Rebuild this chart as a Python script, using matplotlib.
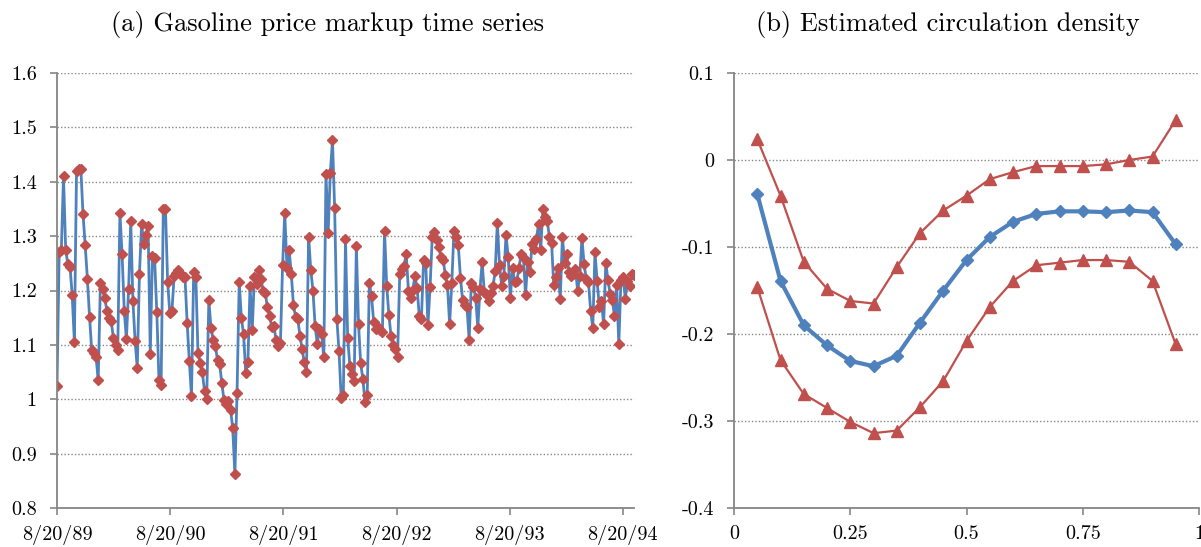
import matplotlib
matplotlib.use("Agg")
import matplotlib.pyplot as plt
import numpy as np

# ---- data -------------------------------------------------------------
# (a) weekly gasoline price markup, starting 8/20/89
markup = [
    1.025, 1.27, 1.275, 1.41, 1.275, 1.248, 1.243, 1.192, 1.106, 1.42,
    1.423, 1.423, 1.34, 1.283, 1.222, 1.152, 1.09, 1.085, 1.078, 1.035,
    1.213, 1.203, 1.186, 1.163, 1.15, 1.143, 1.113, 1.10, 1.09, 1.342,
    1.268, 1.163, 1.11, 1.202, 1.327, 1.18, 1.108, 1.057, 1.23, 1.322,
    1.286, 1.302, 1.318, 1.084, 1.263, 1.259, 1.161, 1.035, 1.027, 1.35,
    1.35, 1.216, 1.158, 1.163, 1.226, 1.232, 1.238, 1.23, 1.225, 1.225,
    1.14, 1.07, 1.006, 1.234, 1.225, 1.085, 1.067,
    1.050, 1.015, 1.0, 1.182, 1.131, 1.109, 1.098, 1.072, 1.064, 1.029,
    0.998, 0.992, 0.997, 0.981, 0.947, 0.862, 1.012, 1.215, 1.150, 1.120,
    1.049, 1.068, 1.209, 1.127, 1.225, 1.212, 1.238, 1.222, 1.200, 1.196,
    1.169, 1.153, 1.133, 1.134, 1.109, 1.098, 1.104, 1.246, 1.343, 1.242,
    1.275, 1.231, 1.173, 1.151, 1.147, 1.117, 1.093, 1.068, 1.051, 1.299,
    1.237, 1.200, 1.134, 1.102, 1.129, 1.120, 1.077, 1.414, 1.305, 1.417,
    1.476, 1.351, 1.148, 1.089, 1.003, 1.007, 1.294, 1.113, 1.062, 1.047,
    1.034, 1.282, 1.139, 1.066, 1.037, 0.995, 1.007, 1.214, 1.189, 1.142,
    1.129, 1.133, 1.128, 1.123, 1.310, 1.208, 1.155, 1.116, 1.100, 1.093,
    1.078,
    1.231, 1.240, 1.245, 1.267, 1.200, 1.187, 1.201, 1.226, 1.205, 1.153,
    1.148, 1.256, 1.250, 1.136, 1.207, 1.299, 1.308, 1.292, 1.280, 1.262,
    1.257, 1.229, 1.210, 1.138, 1.214, 1.310, 1.299, 1.283, 1.223, 1.182,
    1.174, 1.169, 1.109, 1.213, 1.207, 1.187, 1.131, 1.203, 1.252, 1.197,
    1.194, 1.181, 1.196, 1.208, 1.235, 1.325, 1.247, 1.209, 1.226, 1.302,
    1.262, 1.187, 1.242, 1.216, 1.217, 1.242, 1.268, 1.262, 1.192, 1.253,
    1.234, 1.285, 1.276, 1.294, 1.323, 1.275, 1.350, 1.336, 1.328, 1.299,
    1.288, 1.210, 1.225, 1.241, 1.185, 1.299, 1.251, 1.267, 1.234, 1.226,
    1.231, 1.240, 1.200, 1.226, 1.297, 1.248, 1.221, 1.216, 1.163, 1.131,
    1.271, 1.218, 1.170, 1.181, 1.138, 1.251, 1.219, 1.194, 1.183, 1.153,
    1.210, 1.101, 1.220, 1.224, 1.185, 1.218, 1.209, 1.231, 1.228,
]
start_date = np.datetime64("1989-08-20")
dates = start_date + np.arange(len(markup)) * np.timedelta64(7, "D")
year_ticks = [np.datetime64(f"{y}-08-20") for y in range(1989, 1995)]
year_labels = [f"8/20/{str(y)[2:]}" for y in range(1989, 1995)]
yticks_a = [0.8, 0.9, 1.0, 1.1, 1.2, 1.3, 1.4, 1.5, 1.6]
ylabels_a = ["0.8", "0.9", "1", "1.1", "1.2", "1.3", "1.4", "1.5", "1.6"]

# (b) estimated circulation density with bands
grid_x = [0.05, 0.10, 0.15, 0.20, 0.25, 0.30, 0.35, 0.40, 0.45, 0.50,
          0.55, 0.60, 0.65, 0.70, 0.75, 0.80, 0.85, 0.90, 0.95]
density = [-0.039, -0.139, -0.190, -0.213, -0.231, -0.237, -0.225, -0.187,
           -0.150, -0.115, -0.0885, -0.071, -0.062, -0.059, -0.059, -0.060,
           -0.058, -0.060, -0.097]
upper = [0.024, -0.041, -0.117, -0.148, -0.162, -0.165, -0.123, -0.084,
         -0.058, -0.041, -0.022, -0.014, -0.007, -0.007, -0.007, -0.005,
         0.0, 0.004, 0.046]
lower = [-0.146, -0.230, -0.269, -0.285, -0.301, -0.314, -0.311, -0.284,
         -0.254, -0.208, -0.169, -0.139, -0.121, -0.118, -0.115, -0.115,
         -0.117, -0.139, -0.212]
xticks_b = [0, 0.25, 0.5, 0.75, 1]
xlabels_b = ["0", "0.25", "0.5", "0.75", "1"]
yticks_b = [-0.4, -0.3, -0.2, -0.1, 0, 0.1]
ylabels_b = ["-0.4", "-0.3", "-0.2", "-0.1", "0", "0.1"]

# ---- style ------------------------------------------------------------
blue = "#4F81BD"
red = "#C0504D"
gray = "#868686"
plt.rcParams["font.family"] = ["cmr10", "DejaVu Serif"]
plt.rcParams["axes.unicode_minus"] = False

fig = plt.figure(figsize=(12.01, 5.47), dpi=100)
ax1 = fig.add_axes([57 / 1201, 39 / 547, 577 / 1201, 435 / 547])
ax2 = fig.add_axes([734 / 1201, 39 / 547, 465 / 1201, 435 / 547])


def style_axes(ax):
    for s in ["top", "right"]:
        ax.spines[s].set_visible(False)
    for s in ["left", "bottom"]:
        ax.spines[s].set_color(gray)
        ax.spines[s].set_linewidth(1.3)
    ax.yaxis.grid(True, linestyle=(0, (1, 1.5)), color=gray, linewidth=1.0)
    ax.set_axisbelow(True)
    ax.tick_params(axis="both", direction="out", length=5, width=1.2,
                   color=gray, labelsize=14.5)
    ax.tick_params(axis="y", pad=9.5)
    ax.tick_params(axis="x", pad=7)


# (a)
ax1.plot(dates, markup, color=blue, linewidth=2.0, marker="D",
         markersize=5.5, markerfacecolor=red, markeredgecolor=red)
ax1.set_xlim(dates[0], dates[-1])
ax1.set_ylim(0.8, 1.6)
ax1.set_xticks(year_ticks)
ax1.set_xticklabels(year_labels)
ax1.set_yticks(yticks_a)
ax1.set_yticklabels(ylabels_a)
style_axes(ax1)

# (b)
ax2.plot(grid_x, upper, color=red, linewidth=1.6, marker="^",
         markersize=8.5)
ax2.plot(grid_x, lower, color=red, linewidth=1.6, marker="^",
         markersize=8.5)
ax2.plot(grid_x, density, color=blue, linewidth=3.0, marker="D",
         markersize=6.5)
ax2.set_xlim(0, 1)
ax2.set_ylim(-0.4, 0.1)
ax2.set_xticks(xticks_b)
ax2.set_xticklabels(xlabels_b)
ax2.set_yticks(yticks_b)
ax2.set_yticklabels(ylabels_b)
style_axes(ax2)

fig.text(327.5 / 1201, 1 - 25 / 547, "(a) Gasoline price markup time series",
         ha="center", va="center", fontsize=19)
fig.text(948 / 1201, 1 - 25 / 547, "(b) Estimated circulation density",
         ha="center", va="center", fontsize=19)

fig.savefig("out.png", dpi=100)
